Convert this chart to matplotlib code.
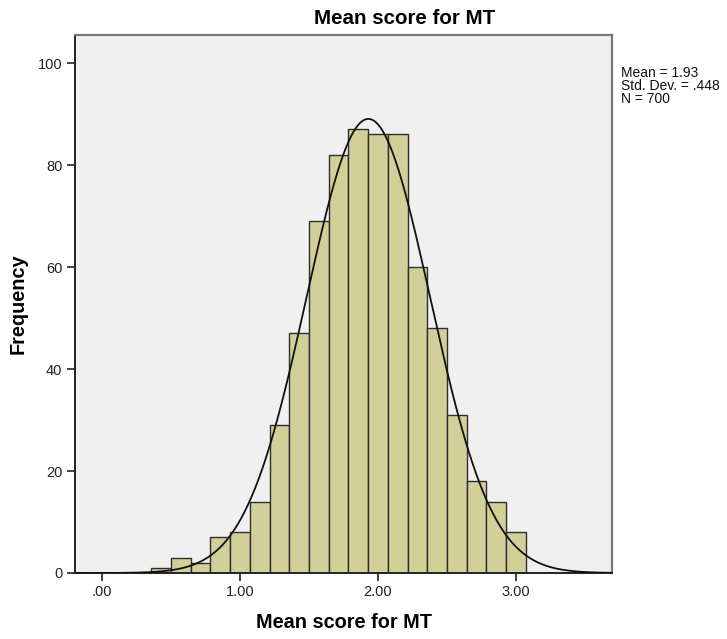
import numpy as np
import matplotlib
matplotlib.use("Agg")
import matplotlib.pyplot as plt

plt.rcParams['font.family'] = ['Liberation Sans', 'DejaVu Sans']

# Histogram of mean scores (bins centred on k/7)
bin_index = list(range(3, 22))
counts = [1, 3, 2, 7, 8, 14, 29, 47, 69, 82, 87, 86, 86, 60, 48, 31, 18, 14, 8]
x_ticks = [0.0, 1.0, 2.0, 3.0]
x_tick_labels = ['.00', '1.00', '2.00', '3.00']
y_ticks = [0, 20, 40, 60, 80, 100]
mean_val = 1.93
sd_val = 0.448
n_val = 700

bin_w = 1.0 / 7.0
centers = np.array(bin_index) / 7.0

W, H = 727, 639
L, R, T, B = 75, 612, 35, 573
fig = plt.figure(figsize=(W / 100, H / 100), dpi=100)
ax = fig.add_axes([L / W, (H - B) / H, (R - L) / W, (B - T) / H])
ax.set_facecolor('#f0f0f0')

ax.bar(centers, counts, width=bin_w, color='#d3cf98', edgecolor='#2e2e2e',
       linewidth=1.0, zorder=2)

xs = np.linspace(-0.2, 3.7, 600)
pdf = n_val * bin_w / (sd_val * np.sqrt(2 * np.pi)) * np.exp(-0.5 * ((xs - mean_val) / sd_val) ** 2)
ax.plot(xs, pdf, color='#111111', lw=1.3, zorder=3)

ax.set_xlim(-0.196, 3.696)
ax.set_ylim(0, 105.5)
ax.set_xticks(x_ticks)
ax.set_xticklabels(x_tick_labels)
ax.set_yticks(y_ticks)
ax.tick_params(axis='both', direction='out', length=6, width=1.2, color='#222222',
               labelsize=10.5, labelcolor='#222222', pad=3)

for side in ['left', 'bottom']:
    ax.spines[side].set_color('#222222')
    ax.spines[side].set_linewidth(1.4)
for side in ['top', 'right']:
    ax.spines[side].set_color('#777777')
    ax.spines[side].set_linewidth(1.6)

ylab = ax.set_ylabel('Frequency', fontsize=14.3, fontweight='bold')
ax.yaxis.set_label_coords((18 - L) / (R - L), 0.5)
ylab.set_va('center')
xlab = ax.set_xlabel('Mean score for MT', fontsize=14.3, fontweight='bold')
ax.xaxis.set_label_coords(0.5, (B - 622) / (B - T))
xlab.set_va('center')

fig.text(405 / W, 1 - 19 / H, 'Mean score for MT', ha='center', va='center',
         fontsize=14.8, fontweight='bold')

fig.text(621 / W, 1 - 66 / H,
         f'Mean = {mean_val:.2f}\nStd. Dev. = {str(sd_val)[1:]}\nN = {n_val}',
         ha='left', va='top', fontsize=10, linespacing=0.92, color='#111111')

fig.savefig('out.png', dpi=100, facecolor='white')
